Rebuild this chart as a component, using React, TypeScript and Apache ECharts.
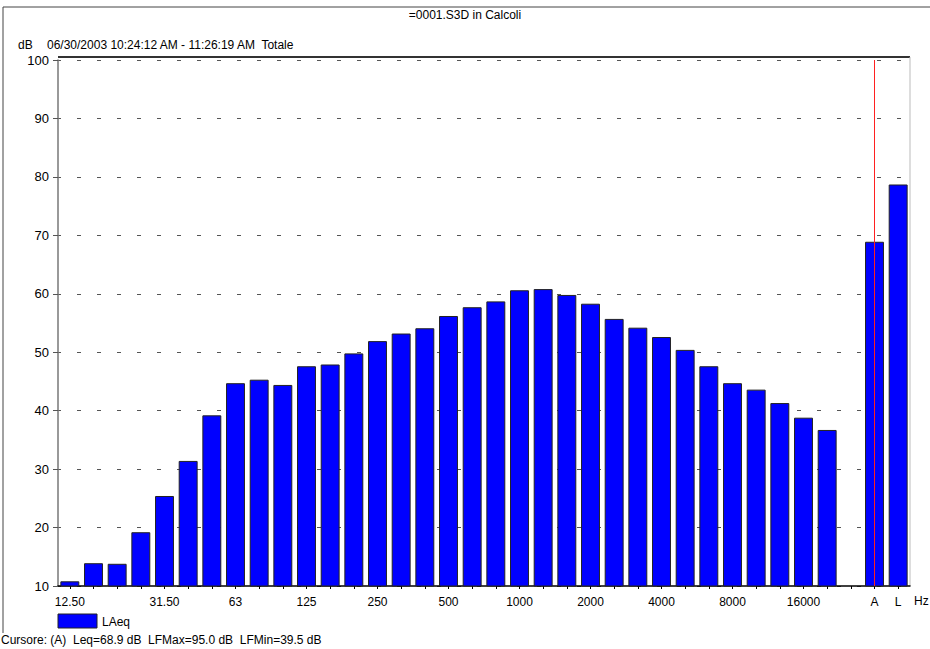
import React, { useEffect, useRef } from "react";
import * as echarts from "echarts";

const categories: string[] = [
  "12.50", "16", "20", "25", "31.50", "40", "50", "63", "80", "100", "125", "160",
  "200", "250", "315", "400", "500", "630", "800", "1000", "1250", "1600", "2000",
  "2500", "3150", "4000", "5000", "6300", "8000", "10000", "12500", "16000", "20000",
  " ", "A", "L",
];

const laeqValues: (number | null)[] = [
  10.8, 13.9, 13.8, 19.2, 25.4, 31.4, 39.2, 44.7, 45.3, 44.4, 47.6, 47.9,
  49.8, 51.9, 53.2, 54.1, 56.2, 57.7, 58.7, 60.6, 60.8, 59.8, 58.3,
  55.7, 54.2, 52.6, 50.4, 47.6, 44.7, 43.6, 41.3, 38.8, 36.7,
  null, 68.9, 78.7,
];

const shownLabels: string[] = [
  "12.50", "31.50", "63", "125", "250", "500", "1000", "2000", "4000", "8000", "16000", "A", "L",
];

const cursorCategory = "A";

const titleText = "=0001.S3D in Calcoli";
const subtitleText = "06/30/2003 10:24:12 AM - 11:26:19 AM  Totale";
const unitText = "dB";
const xUnitText = "Hz";
const seriesName = "LAeq";
const footerText = "Cursore: (A)  Leq=68.9 dB  LFMax=95.0 dB  LFMin=39.5 dB";

const FONT = "'Liberation Sans', Arial, sans-serif";

export default function App() {
  const ref = useRef<HTMLDivElement>(null);

  useEffect(() => {
    if (!ref.current) return;
    const chart = echarts.init(ref.current, null, { renderer: "svg" });
    const gridLeft = 58;
    const gridRight = 20;
    const gridTop = 60;
    const gridBottom = 63;
    const W = 930;
    const H = 649;
    const plotRight = W - gridRight;
    const plotBottom = H - gridBottom;

    chart.setOption({
      animation: false,
      backgroundColor: "#ffffff",
      textStyle: { fontFamily: FONT },
      grid: { left: gridLeft, right: gridRight, top: gridTop, bottom: gridBottom },
      xAxis: {
        type: "category",
        data: categories,
        boundaryGap: true,
        axisLine: { show: true, lineStyle: { color: "#000", width: 1.5 } },
        axisTick: {
          show: true,
          interval: 0,
          alignWithLabel: true,
          length: 3,
          lineStyle: { color: "#000" },
        },
        axisLabel: {
          interval: 0,
          margin: 10,
          color: "#000",
          fontSize: 12,
          fontFamily: FONT,
          formatter: (v: string) => (shownLabels.includes(v) ? v : ""),
        },
        splitLine: { show: false },
      },
      yAxis: {
        type: "value",
        min: 10,
        max: 100,
        interval: 10,
        axisLine: { show: true, lineStyle: { color: "#777", width: 1.5 } },
        axisTick: { show: true, length: 5, lineStyle: { color: "#555" } },
        axisLabel: { color: "#000", fontSize: 13, margin: 9, fontFamily: FONT },
        splitLine: {
          show: true,
          lineStyle: { color: "#555", type: [4, 16], dashOffset: 1, width: 1 },
        },
      },
      series: [
        {
          name: seriesName,
          type: "bar",
          data: laeqValues,
          barCategoryGap: "20%",
          itemStyle: { color: "#0000ff", borderColor: "#222", borderWidth: 1 },
          markLine: {
            silent: true,
            symbol: ["none", "none"],
            label: { show: false },
            lineStyle: { color: "#ff2020", type: "solid", width: 1 },
            data: [{ xAxis: cursorCategory }],
          },
        },
      ],
      graphic: [
        {
          type: "polyline",
          shape: { points: [[3, 633], [3, 7], [935, 7]] },
          style: { fill: "none", stroke: "#444", lineWidth: 1 },
          silent: true,
        },
        {
          type: "line",
          shape: { x1: gridLeft, y1: 57, x2: plotRight, y2: 57 },
          style: { stroke: "#333", lineWidth: 2 },
          silent: true,
        },
        {
          type: "line",
          shape: { x1: plotRight, y1: 57, x2: plotRight, y2: plotBottom },
          style: { stroke: "#bbb", lineWidth: 1 },
          silent: true,
        },
        {
          type: "text",
          x: 465,
          y: 15,
          style: { text: titleText, fill: "#000", font: `12px ${FONT}`, textAlign: "center", textVerticalAlign: "middle" },
        },
        {
          type: "text",
          x: 18,
          y: 45,
          style: { text: unitText, fill: "#000", font: `12px ${FONT}`, textVerticalAlign: "middle" },
        },
        {
          type: "text",
          x: 47,
          y: 45,
          style: { text: subtitleText, fill: "#000", font: `12px ${FONT}`, textVerticalAlign: "middle" },
        },
        {
          type: "text",
          x: 914,
          y: 601,
          style: { text: xUnitText, fill: "#000", font: `12px ${FONT}`, textVerticalAlign: "middle" },
        },
        {
          type: "rect",
          shape: { x: 58, y: 614, width: 39, height: 14 },
          style: { fill: "#0000ff", stroke: "#222", lineWidth: 1 },
        },
        {
          type: "text",
          x: 102,
          y: 622,
          style: { text: seriesName, fill: "#000", font: `12px ${FONT}`, textVerticalAlign: "middle" },
        },
        {
          type: "text",
          x: 1,
          y: 640,
          style: { text: footerText, fill: "#000", font: `12px ${FONT}`, textVerticalAlign: "middle" },
        },
      ],
    });
    return () => chart.dispose();
  }, []);

  return (
    <div
      ref={ref}
      style={{ position: "fixed", left: 0, top: 0, width: 930, height: 649 }}
    />
  );
}
